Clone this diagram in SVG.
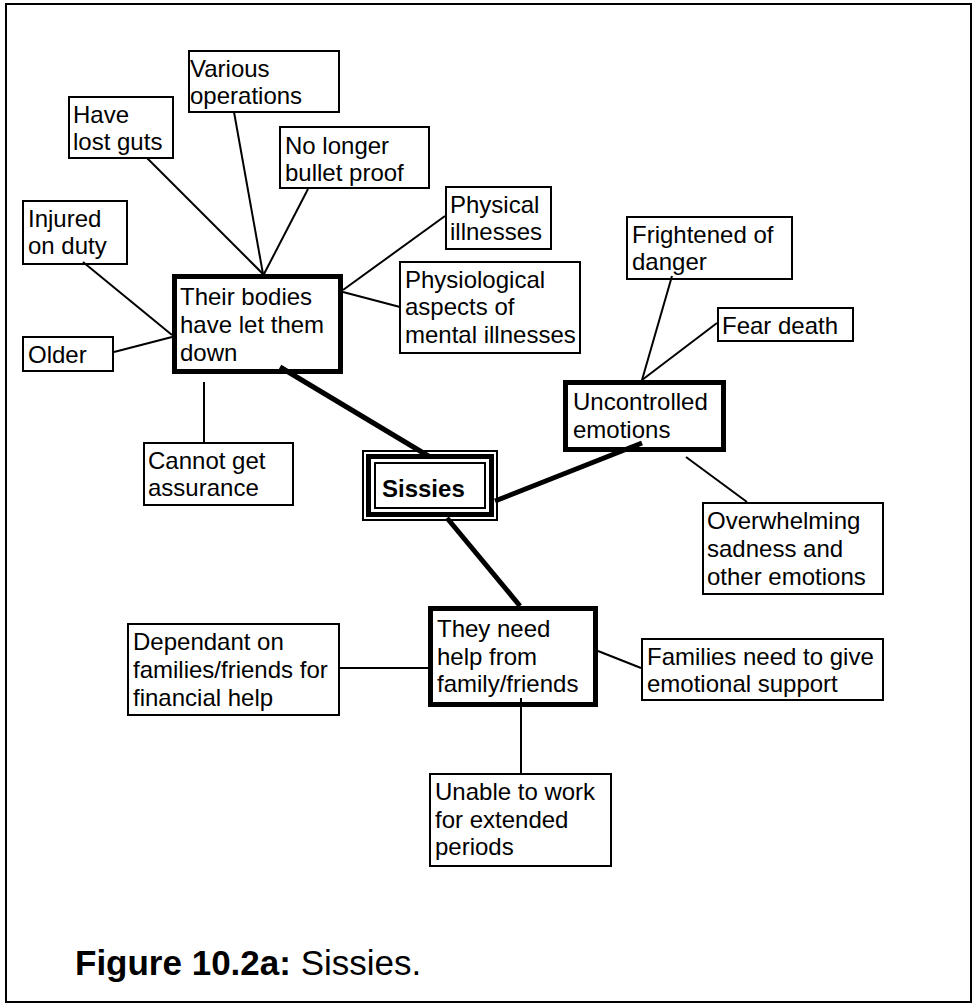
<svg xmlns="http://www.w3.org/2000/svg" width="977" height="1008" viewBox="0 0 977 1008">
<style>
text{font-family:"Liberation Sans",Arial,Helvetica,sans-serif;font-size:24px;fill:#000}
.box{fill:#fff;stroke:#000;stroke-width:2}
.tbox{fill:#fff;stroke:#000;stroke-width:5}
.ln{stroke:#000;stroke-width:2;fill:none}
.tk{stroke:#000;stroke-width:5;fill:none}
.b{font-weight:bold}
</style>
<rect x="0" y="0" width="977" height="1008" fill="#fff"/>
<rect x="6" y="4" width="965" height="998" fill="none" stroke="#000" stroke-width="2"/>

<g id="n-various"><rect class="box" x="189" y="51" width="150" height="61"/><text x="190" y="77">Various</text><text x="190" y="104">operations</text></g>
<g id="n-guts"><rect class="box" x="69" y="97" width="104" height="61"/><text x="73" y="123">Have</text><text x="73" y="150">lost guts</text></g>
<g id="n-bullet"><rect class="box" x="280" y="127" width="149" height="61"/><text x="285" y="154">No longer</text><text x="285" y="181">bullet proof</text></g>
<g id="n-injured"><rect class="box" x="23" y="201" width="104" height="63"/><text x="28" y="227">Injured</text><text x="28" y="254">on duty</text></g>
<g id="n-physical"><rect class="box" x="446" y="187" width="105" height="62"/><text x="450" y="213">Physical</text><text x="450" y="240">illnesses</text></g>
<g id="n-physio"><rect class="box" x="400" y="262" width="180" height="91"/><text x="405" y="288">Physiological</text><text x="405" y="315">aspects of</text><text x="405" y="343">mental illnesses</text></g>
<g id="n-older"><rect class="box" x="23" y="337" width="90" height="34"/><text x="28" y="363">Older</text></g>
<g id="n-bodies"><rect class="tbox" x="174.5" y="276.5" width="166" height="95"/><text x="180" y="305">Their bodies</text><text x="180" y="333">have let them</text><text x="180" y="361">down</text></g>
<g id="n-assurance"><rect class="box" x="144" y="443" width="149" height="62"/><text x="148" y="469">Cannot get</text><text x="148" y="496">assurance</text></g>
<g id="n-frightened"><rect class="box" x="627" y="217" width="165" height="62"/><text x="632" y="243">Frightened of</text><text x="632" y="270">danger</text></g>
<g id="n-fear"><rect class="box" x="718" y="308" width="135" height="33"/><text x="722" y="334">Fear death</text></g>
<g id="n-uncontrolled"><rect class="tbox" x="565.5" y="382.5" width="158" height="67"/><text x="573" y="410">Uncontrolled</text><text x="573" y="438">emotions</text></g>
<g id="n-sissies">
<rect x="363" y="451" width="134" height="69" fill="#fff" stroke="#000" stroke-width="2"/>
<rect x="368.5" y="456.5" width="123" height="58" fill="none" stroke="#000" stroke-width="5"/>
<rect x="375" y="463" width="110" height="45" fill="none" stroke="#000" stroke-width="2"/>
<text class="b" x="382" y="497">Sissies</text></g>
<g id="n-overwhelming"><rect class="box" x="703" y="503" width="180" height="91"/><text x="707" y="529">Overwhelming</text><text x="707" y="557">sadness and</text><text x="707" y="585">other emotions</text></g>
<g id="n-families"><rect class="box" x="642" y="639" width="241" height="61"/><text x="647" y="665">Families need to give</text><text x="647" y="692">emotional support</text></g>
<g id="n-dependant"><rect class="box" x="128" y="624" width="211" height="91"/><text x="133" y="650">Dependant on</text><text x="133" y="678">families/friends for</text><text x="133" y="706">financial help</text></g>
<g id="n-needhelp"><rect class="tbox" x="430.5" y="608.5" width="165" height="96"/><text x="437" y="637">They need</text><text x="437" y="665">help from</text><text x="437" y="692">family/friends</text></g>
<g id="n-unable"><rect class="box" x="430" y="774" width="181" height="92"/><text x="435" y="800">Unable to work</text><text x="435" y="828">for extended</text><text x="435" y="855">periods</text></g>

<g id="connectors">
<line class="ln" x1="147" y1="158" x2="263" y2="274"/>
<line class="ln" x1="234" y1="112" x2="263" y2="274"/>
<line class="ln" x1="308" y1="189" x2="264" y2="274"/>
<line class="ln" x1="83" y1="262" x2="172" y2="335"/>
<line class="ln" x1="114" y1="352" x2="172" y2="337"/>
<line class="ln" x1="343" y1="290" x2="445" y2="216"/>
<line class="ln" x1="343" y1="292" x2="400" y2="307"/>
<line class="ln" x1="204" y1="382" x2="204" y2="442"/>
<line class="tk" x1="280" y1="367" x2="430" y2="457"/>
<line class="tk" x1="495" y1="501" x2="642" y2="443"/>
<line class="tk" x1="447" y1="518" x2="520" y2="606"/>
<line class="ln" x1="642" y1="380" x2="672" y2="276"/>
<line class="ln" x1="642" y1="380" x2="717" y2="323"/>
<line class="ln" x1="686" y1="457" x2="747" y2="502"/>
<line class="ln" x1="340" y1="668" x2="428" y2="668"/>
<line class="ln" x1="598" y1="651" x2="641" y2="668"/>
<line class="ln" x1="521" y1="698" x2="521" y2="773"/>
</g>

<text x="75" y="975" style="font-size:35px"><tspan class="b">Figure 10.2a:</tspan> Sissies.</text>
</svg>
